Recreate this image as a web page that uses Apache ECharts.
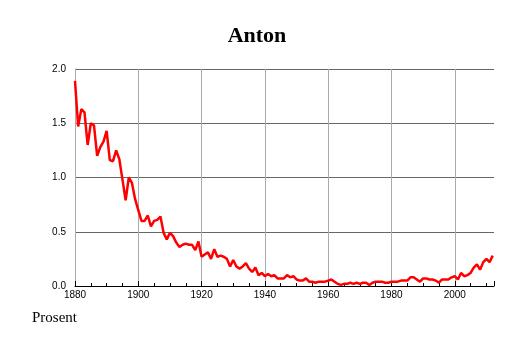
<!DOCTYPE html>
<html>
<head>
<meta charset="utf-8">
<script src="https://cdn.jsdelivr.net/npm/echarts@6/dist/echarts.min.js"></script>
<style>html,body{margin:0;padding:0;background:#fff}#c{width:514px;height:343px}</style>
</head>
<body>
<div id="c"></div>
<script>
const years = [];
for (let y = 1880; y <= 2012; y++) years.push(y);
const values = [
  1.89, 1.47, 1.63, 1.60, 1.30, 1.50, 1.48, 1.20, 1.28, 1.33,
  1.43, 1.16, 1.15, 1.25, 1.17, 0.98, 0.79, 1.00, 0.95, 0.80,
  0.70, 0.60, 0.60, 0.65, 0.55, 0.60, 0.61, 0.64, 0.49, 0.43,
  0.49, 0.46, 0.40, 0.36, 0.38, 0.39, 0.38, 0.38, 0.33, 0.41,
  0.27, 0.29, 0.31, 0.25, 0.34, 0.27, 0.28, 0.27, 0.25, 0.18,
  0.24, 0.18, 0.16, 0.18, 0.21, 0.16, 0.13, 0.17, 0.10, 0.12,
  0.09, 0.11, 0.09, 0.10, 0.07, 0.07, 0.07, 0.10, 0.08, 0.09,
  0.06, 0.05, 0.05, 0.07, 0.04, 0.04, 0.03, 0.04, 0.04, 0.04,
  0.05, 0.06, 0.04, 0.02, 0.01, 0.02, 0.02, 0.03, 0.02, 0.03,
  0.02, 0.03, 0.03, 0.01, 0.03, 0.04, 0.04, 0.04, 0.03, 0.03,
  0.04, 0.04, 0.04, 0.05, 0.05, 0.05, 0.08, 0.08, 0.06, 0.04,
  0.07, 0.07, 0.06, 0.06, 0.05, 0.03, 0.06, 0.06, 0.06, 0.08,
  0.09, 0.06, 0.12, 0.09, 0.10, 0.12, 0.17, 0.20, 0.15, 0.22,
  0.25, 0.22, 0.28
];
const titleText = "Anton";
const unitText = "Prosent";

const chart = echarts.init(document.getElementById('c'), null, {renderer: 'canvas'});
chart.setOption({
  animation: false,
  backgroundColor: '#fff',
  title: [
    {text: titleText, left: 'center', top: 20,
     textStyle: {fontFamily: 'Liberation Serif', fontWeight: 'bold', fontSize: 22, color: '#000'}},
    {text: unitText, left: 32, top: 311, padding: 0,
     textStyle: {fontFamily: 'Liberation Serif', fontWeight: 'normal', fontSize: 15, color: '#000'}}
  ],
  grid: {left: 75, right: 20, top: 69, bottom: 57, containLabel: false},
  xAxis: {
    type: 'value', min: 1880, max: 2012.4, interval: 20,
    axisLine: {show: true, lineStyle: {color: '#000', width: 1}},
    axisTick: {show: true, inside: true, length: 5, lineStyle: {color: '#000'}},
    minorTick: {show: true, splitNumber: 4, length: 3, lineStyle: {color: '#000'}},
    axisLabel: {color: '#000', fontFamily: 'Liberation Sans', fontSize: 10, margin: 4,
      formatter: v => (v % 20 === 0 ? String(v) : '')},
    splitLine: {show: true, showMaxLine: false, lineStyle: {color: '#aaa', width: 1}}
  },
  yAxis: {
    type: 'value', min: 0, max: 2, interval: 0.5,
    axisLine: {show: true, lineStyle: {color: '#aaa', width: 1}},
    axisTick: {show: false},
    axisLabel: {color: '#000', fontFamily: 'Liberation Sans', fontSize: 10, margin: 9,
      formatter: v => v.toFixed(1)},
    splitLine: {show: true, lineStyle: {color: '#666', width: 1}}
  },
  series: [{
    type: 'line',
    data: years.map((y, i) => [y, values[i]]),
    showSymbol: false,
    lineStyle: {color: '#ff0000', width: 2.5},
    z: 5
  }]
});
</script>
</body>
</html>
